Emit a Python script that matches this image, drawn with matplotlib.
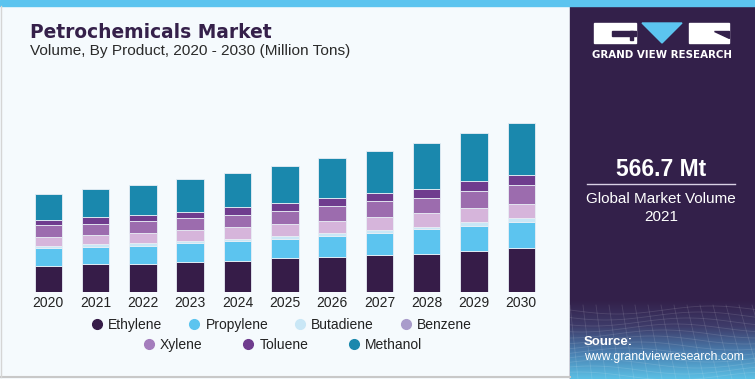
import numpy as np
import matplotlib.pyplot as plt
from matplotlib.colors import LinearSegmentedColormap
from matplotlib.lines import Line2D
from matplotlib.patches import Rectangle, Polygon

plt.rcParams['font.family'] = ['Liberation Sans', 'DejaVu Sans']

years = ['2020', '2021', '2022', '2023', '2024', '2025', '2026', '2027', '2028', '2029', '2030']
products = ['Ethylene', 'Propylene', 'Butadiene', 'Benzene', 'Xylene', 'Toluene', 'Methanol']

# Million tons
ethylene  = [144, 153, 153, 166, 171, 186, 192, 205, 210, 227, 240]
propylene = [96, 96, 101, 102, 109, 107, 118, 122, 135, 138, 147]
butadiene = [14, 13, 13, 13, 11, 15, 13, 15, 11, 20, 20]
benzene   = [48, 53, 55, 62, 65, 66, 70, 70, 79, 77, 79]
xylene    = [66, 58, 68, 65, 70, 74, 81, 92, 85, 96, 105]
toluene   = [26, 39, 32, 35, 41, 44, 44, 41, 50, 54, 52]
methanol  = [149, 155, 168, 179, 188, 203, 223, 234, 254, 265, 288]

bar_colors = ['#361c48', '#5cc4ef', '#c9e7f6', '#d6b5db', '#9c6cae', '#6f3c8e', '#1a88ad']
legend_colors = ['#361c48', '#5cc4ef', '#c9e7f6', '#a99ccb', '#a47dbd', '#6f3c8e', '#1a88ad']

W, H = 755, 379
fig = plt.figure(figsize=(W / 100, H / 100), dpi=100)

# background / decoration layer in pixel coordinates
bg = fig.add_axes([0, 0, 1, 1])
bg.set_xlim(0, W)
bg.set_ylim(H, 0)
bg.axis('off')
bg.add_patch(Rectangle((0, 0), 570, H, color='#f5fafd', zorder=0))
bg.add_patch(Rectangle((570, 0), W - 570, H, color='#33204a', zorder=0))
cmap = LinearSegmentedColormap.from_list('panel', ['#33204a', '#3e3c6a', '#4a7fb0', '#5bbfe4'])
grad = np.linspace(0, 1, 100).reshape(-1, 1)
bg.imshow(grad, extent=[570, W, H, 300], cmap=cmap, aspect='auto', zorder=1)
# faint mesh in the panel bottom
for k in range(12):
    xs = np.linspace(570, W, 50)
    ys = 310 + k * 6 + 4 * np.sin((xs - 570) / 30 + k * 0.4)
    bg.plot(xs, ys, color='white', alpha=0.12, lw=0.6, zorder=2)
for k in range(16):
    x0 = 570 + k * 13
    bg.plot([x0, x0 + 8 + k], [305, H], color='white', alpha=0.12, lw=0.6, zorder=2)
bg.add_patch(Rectangle((0, 0), W, 6, color='#5cc4ef', zorder=3))
bg.plot([0, 570], [377, 377], color='#c8c8c8', lw=1.5, zorder=3)
bg.plot([0.5, 0.5], [6, 377], color='#d5d5d5', lw=1, zorder=3)

# logo
bg.add_patch(Rectangle((594, 23), 42, 20, color='white', zorder=3))
bg.add_patch(Rectangle((612, 31), 24, 5, color='#33204a', zorder=4))
bg.add_patch(Rectangle((630, 31), 3, 9, color='#33204a', zorder=4))
bg.add_patch(Polygon([(642, 23), (682, 23), (662, 43)], color='#5cc4ef', zorder=3))
bg.add_patch(Rectangle((689, 23), 40, 20, color='white', zorder=3))
bg.add_patch(Polygon([(714, 31), (729, 31), (729, 38)], color='#33204a', zorder=4))
bg.text(661.5, 55, 'GRAND VIEW RESEARCH', color='white', fontsize=7.4, fontweight='bold',
        family='DejaVu Sans', ha='center', va='center', zorder=4)

# right panel texts
bg.text(661, 170, '566.7 Mt', color='white', fontsize=16.5, fontweight='bold',
        ha='center', va='center', zorder=4)
bg.plot([587, 735], [184, 184], color='#d8d0e4', lw=1, zorder=4)
bg.text(661, 199, 'Global Market Volume', color='white', fontsize=11,
        ha='center', va='center', zorder=4)
bg.text(661, 217, '2021', color='white', fontsize=11,
        ha='center', va='center', zorder=4)
bg.text(584, 342, 'Source:', color='white', fontsize=9.5, fontweight='bold', ha='left', va='center', zorder=4)
bg.text(584, 357, 'www.grandviewresearch.com', color='white', fontsize=8.8, ha='left', va='center', zorder=4)

# titles
bg.text(30, 32, 'Petrochemicals Market', color='#35204a', fontsize=13.4, fontweight='bold',
        family='DejaVu Sans', ha='left', va='center', zorder=4)
bg.text(30, 51, 'Volume, By Product, 2020 - 2030 (Million Tons)', color='#2a2a2a', fontsize=11.1,
        ha='left', va='center', zorder=4)

# chart
ax = fig.add_axes([20 / W, (H - 291.7) / H, 530 / W, 181.7 / H])
ax.set_facecolor('none')
series = [ethylene, propylene, butadiene, benzene, xylene, toluene, methanol]
x = np.arange(len(years))
bottom = np.zeros(len(years))
for name, vals, col in zip(products, series, bar_colors):
    ax.bar(x, vals, width=0.58, bottom=bottom, color=col, edgecolor='#e8eef5',
           linewidth=0.6, label=name)
    bottom += np.array(vals)

ax.set_xlim(-0.598, 10.607)
ax.set_ylim(0, 1005)
ax.set_xticks(x)
ax.set_xticklabels(years, fontsize=10, color='#222222')
ax.tick_params(axis='x', length=0, pad=3)
ax.set_yticks([])
for s in ax.spines.values():
    s.set_visible(False)

handles = [Line2D([], [], marker='o', ls='', markersize=7, color=c, markeredgecolor=c)
           for c in legend_colors]
leg1 = fig.legend(handles[:4], products[:4], loc='center', bbox_to_anchor=(281 / W, 1 - 325 / H),
                  ncol=4, frameon=False, fontsize=10, handletextpad=0.3, columnspacing=1.8,
                  handlelength=1.0, labelcolor='#222222')
leg2 = fig.legend(handles[4:], products[4:], loc='center', bbox_to_anchor=(282 / W, 1 - 345 / H),
                  ncol=3, frameon=False, fontsize=10, handletextpad=0.3, columnspacing=2.8,
                  handlelength=1.0, labelcolor='#222222')

fig.savefig('out.png', dpi=100)
